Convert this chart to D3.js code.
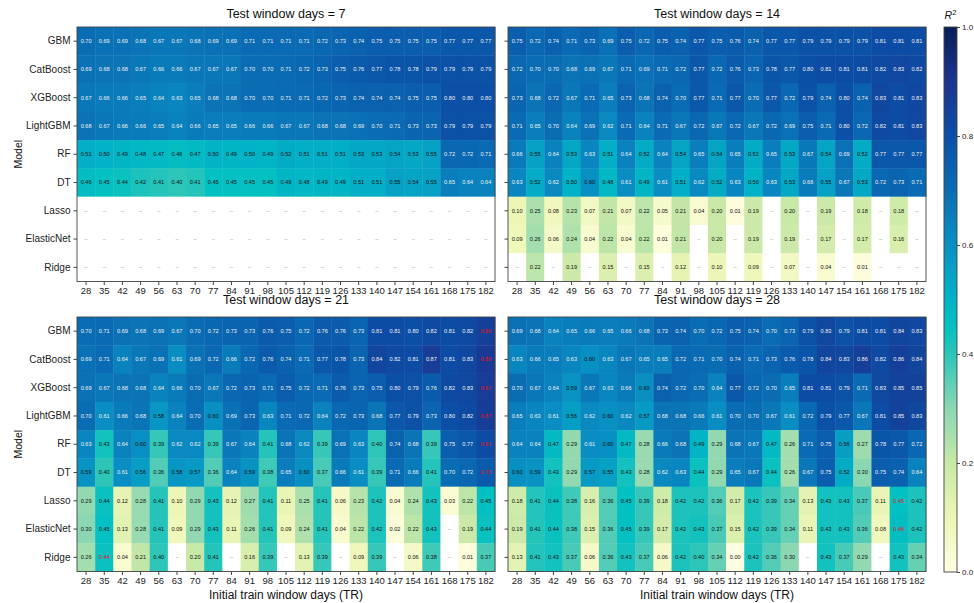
<!DOCTYPE html>
<html>
<head>
<meta charset="utf-8">
<script src="https://cdn.jsdelivr.net/npm/d3@7"></script>
<style>
  body { margin: 0; background: #fff; }
  svg { display: block; }
  text { font-family: "Liberation Sans", Arial, Helvetica, sans-serif; }
</style>
</head>
<body>
<svg id="chart" width="974" height="603"></svg>
<script>
// ---- data -------------------------------------------------------------
const NA = null;
const trainDays = [28, 35, 42, 49, 56, 63, 70, 77, 84, 91, 98, 105, 112, 119, 126, 133, 140, 147, 154, 161, 168, 175, 182];
const models = ["GBM", "CatBoost", "XGBoost", "LightGBM", "RF", "DT", "Lasso", "ElasticNet", "Ridge"];
const testWindows = [7, 14, 21, 28];

// R^2 per model (rows) and initial train window (columns)
const r2Test7 = [
  [0.70,0.69,0.69,0.68,0.67,0.67,0.68,0.69,0.69,0.71,0.71,0.71,0.71,0.72,0.73,0.74,0.75,0.75,0.75,0.75,0.77,0.77,0.77],
  [0.69,0.68,0.68,0.67,0.66,0.66,0.67,0.67,0.67,0.70,0.70,0.71,0.72,0.73,0.75,0.76,0.77,0.78,0.78,0.79,0.79,0.79,0.79],
  [0.67,0.66,0.66,0.65,0.64,0.63,0.65,0.68,0.68,0.70,0.70,0.71,0.71,0.72,0.73,0.74,0.74,0.74,0.75,0.75,0.80,0.80,0.80],
  [0.68,0.67,0.66,0.66,0.65,0.64,0.66,0.65,0.65,0.66,0.66,0.67,0.67,0.68,0.68,0.69,0.70,0.71,0.73,0.73,0.79,0.79,0.79],
  [0.51,0.50,0.49,0.48,0.47,0.46,0.47,0.50,0.49,0.50,0.49,0.52,0.51,0.51,0.51,0.53,0.53,0.54,0.53,0.55,0.72,0.72,0.71],
  [0.46,0.45,0.44,0.42,0.41,0.40,0.41,0.45,0.45,0.45,0.45,0.49,0.48,0.49,0.49,0.51,0.51,0.55,0.54,0.55,0.65,0.64,0.64],
  [NA,NA,NA,NA,NA,NA,NA,NA,NA,NA,NA,NA,NA,NA,NA,NA,NA,NA,NA,NA,NA,NA,NA],
  [NA,NA,NA,NA,NA,NA,NA,NA,NA,NA,NA,NA,NA,NA,NA,NA,NA,NA,NA,NA,NA,NA,NA],
  [NA,NA,NA,NA,NA,NA,NA,NA,NA,NA,NA,NA,NA,NA,NA,NA,NA,NA,NA,NA,NA,NA,NA]
];
const r2Test14 = [
  [0.75,0.72,0.74,0.71,0.73,0.69,0.75,0.72,0.75,0.74,0.77,0.75,0.76,0.74,0.77,0.77,0.79,0.79,0.79,0.79,0.81,0.81,0.81],
  [0.72,0.70,0.70,0.68,0.69,0.67,0.71,0.69,0.71,0.72,0.77,0.72,0.76,0.73,0.78,0.77,0.80,0.81,0.81,0.81,0.82,0.83,0.82],
  [0.73,0.68,0.72,0.67,0.71,0.65,0.73,0.68,0.74,0.70,0.77,0.71,0.77,0.70,0.77,0.72,0.79,0.74,0.80,0.74,0.83,0.81,0.83],
  [0.71,0.65,0.70,0.64,0.69,0.62,0.71,0.64,0.71,0.67,0.72,0.67,0.72,0.67,0.72,0.69,0.75,0.71,0.80,0.72,0.82,0.81,0.83],
  [0.66,0.55,0.64,0.53,0.63,0.51,0.64,0.52,0.64,0.54,0.65,0.54,0.65,0.52,0.65,0.53,0.67,0.54,0.69,0.52,0.77,0.77,0.77],
  [0.63,0.52,0.62,0.50,0.60,0.48,0.61,0.49,0.61,0.51,0.62,0.52,0.63,0.50,0.63,0.53,0.66,0.55,0.67,0.53,0.72,0.73,0.71],
  [0.10,0.25,0.08,0.23,0.07,0.21,0.07,0.22,0.05,0.21,0.04,0.20,0.01,0.19,NA,0.20,NA,0.19,NA,0.18,NA,0.18,NA],
  [0.09,0.26,0.06,0.24,0.04,0.22,0.04,0.22,0.01,0.21,NA,0.20,NA,0.19,NA,0.19,NA,0.17,NA,0.17,NA,0.16,NA],
  [NA,0.22,NA,0.19,NA,0.15,NA,0.15,NA,0.12,NA,0.10,NA,0.09,NA,0.07,NA,0.04,NA,0.01,NA,NA,NA]
];
const r2Test21 = [
  [0.70,0.71,0.69,0.68,0.69,0.67,0.70,0.72,0.73,0.73,0.76,0.75,0.72,0.76,0.76,0.73,0.81,0.81,0.80,0.82,0.81,0.82,0.86],
  [0.69,0.71,0.64,0.67,0.69,0.61,0.69,0.72,0.66,0.72,0.76,0.74,0.71,0.77,0.78,0.73,0.84,0.82,0.81,0.87,0.81,0.83,0.88],
  [0.69,0.67,0.68,0.68,0.64,0.66,0.70,0.67,0.72,0.73,0.71,0.75,0.72,0.71,0.76,0.73,0.75,0.80,0.79,0.76,0.82,0.83,0.87],
  [0.70,0.61,0.66,0.68,0.58,0.64,0.70,0.60,0.69,0.73,0.63,0.71,0.72,0.64,0.72,0.73,0.68,0.77,0.79,0.73,0.80,0.82,0.87],
  [0.63,0.43,0.64,0.60,0.39,0.62,0.62,0.39,0.67,0.64,0.41,0.68,0.62,0.39,0.69,0.63,0.40,0.74,0.68,0.39,0.75,0.77,0.81],
  [0.59,0.40,0.61,0.56,0.36,0.58,0.57,0.36,0.64,0.59,0.38,0.65,0.60,0.37,0.66,0.61,0.39,0.71,0.66,0.41,0.70,0.72,0.76],
  [0.29,0.44,0.12,0.28,0.41,0.10,0.29,0.43,0.12,0.27,0.41,0.11,0.25,0.41,0.06,0.23,0.42,0.04,0.24,0.43,0.03,0.22,0.45],
  [0.30,0.45,0.13,0.28,0.41,0.09,0.29,0.43,0.11,0.26,0.41,0.09,0.24,0.41,0.04,0.22,0.42,0.02,0.22,0.43,NA,0.19,0.44],
  [0.26,0.44,0.04,0.21,0.40,NA,0.20,0.41,NA,0.16,0.39,NA,0.13,0.39,NA,0.09,0.39,NA,0.06,0.38,NA,0.01,0.37]
];
const r2Test28 = [
  [0.69,0.68,0.64,0.65,0.66,0.65,0.66,0.68,0.73,0.74,0.70,0.72,0.75,0.74,0.70,0.73,0.79,0.83,0.79,0.81,0.81,0.84,0.83],
  [0.63,0.66,0.65,0.63,0.60,0.63,0.67,0.65,0.65,0.72,0.71,0.70,0.74,0.71,0.73,0.76,0.78,0.84,0.83,0.86,0.82,0.86,0.84],
  [0.70,0.67,0.64,0.59,0.67,0.63,0.66,0.60,0.74,0.72,0.70,0.64,0.77,0.72,0.70,0.65,0.81,0.81,0.79,0.71,0.83,0.85,0.85],
  [0.65,0.63,0.61,0.56,0.62,0.60,0.62,0.57,0.68,0.68,0.66,0.61,0.70,0.70,0.67,0.61,0.72,0.79,0.77,0.67,0.81,0.85,0.83],
  [0.64,0.64,0.47,0.29,0.61,0.60,0.47,0.28,0.66,0.68,0.49,0.29,0.68,0.67,0.47,0.26,0.71,0.75,0.56,0.27,0.78,0.77,0.72],
  [0.60,0.59,0.43,0.29,0.57,0.55,0.43,0.28,0.62,0.63,0.44,0.29,0.65,0.67,0.44,0.26,0.67,0.75,0.52,0.30,0.75,0.74,0.64],
  [0.18,0.41,0.44,0.38,0.16,0.36,0.45,0.39,0.18,0.42,0.42,0.36,0.17,0.42,0.39,0.34,0.13,0.43,0.43,0.37,0.11,0.45,0.42],
  [0.19,0.41,0.44,0.38,0.15,0.36,0.45,0.39,0.17,0.42,0.43,0.37,0.15,0.42,0.39,0.34,0.11,0.43,0.43,0.36,0.08,0.46,0.42],
  [0.13,0.41,0.43,0.37,0.06,0.36,0.43,0.37,0.06,0.42,0.40,0.34,0.00,0.42,0.36,0.30,NA,0.43,0.37,0.29,NA,0.43,0.34]
];

// best score of each model over all test windows (drawn in red)
const bestTest = [21, 21, 21, 21, 21, 21, 28, 28, 21];
const bestTrain = [182, 182, 182, 182, 182, 182, 175, 175, 35];

// colour map for R^2 in [0, 1]
const colorStops = [0.0, 0.1, 0.2, 0.3, 0.4, 0.45, 0.5, 0.6, 0.7, 0.8, 0.9, 1.0];
const colorRange = ["#fffee0", "#edf6b6", "#c8e8a7", "#8cd7b3", "#2cc5b8", "#03c0c2", "#02b2c6",
                    "#0990c3", "#0a6db4", "#0b4fa6", "#1c3590", "#081d58"];
const colorTicks = [0.0, 0.2, 0.4, 0.6, 0.8, 1.0];

// ---- drawing ----------------------------------------------------------
const r2ByTest = [r2Test7, r2Test14, r2Test21, r2Test28];
const svg = d3.select("#chart");
const color = d3.scaleLinear().domain(colorStops).range(colorRange)
  .interpolate(d3.interpolateRgb).clamp(true);
const fmt = d3.format(".2f");

const panelW = 418, panelH = 254.5;
const panelPos = [
  { x: 77,  y: 27,  titleDy: -9,  yLabels: true,  xTitle: false },
  { x: 508, y: 27,  titleDy: -9,  yLabels: false, xTitle: false },
  { x: 77,  y: 317, titleDy: -13, yLabels: true,  xTitle: true },
  { x: 508, y: 317, titleDy: -13, yLabels: false, xTitle: true }
];

const x = d3.scaleBand().domain(trainDays).range([0, panelW]).padding(0);
const y = d3.scaleBand().domain(models).range([0, panelH]).padding(0);

testWindows.forEach((tw, pi) => {
  const pos = panelPos[pi];
  const data = r2ByTest[pi];
  const g = svg.append("g").attr("transform", `translate(${pos.x},${pos.y})`);

  const cells = [];
  models.forEach((m, ri) => trainDays.forEach((d, ci) => {
    cells.push({ model: m, day: d, value: data[ri][ci],
      best: bestTest[ri] === tw && bestTrain[ri] === d });
  }));

  g.selectAll("rect.cell").data(cells).join("rect")
    .attr("class", "cell")
    .attr("x", c => x(c.day))
    .attr("y", c => y(c.model))
    .attr("width", x.bandwidth() + 0.4)
    .attr("height", y.bandwidth() + 0.4)
    .attr("fill", c => c.value === null ? "#ffffff" : color(c.value));

  g.selectAll("text.ann").data(cells).join("text")
    .attr("class", "ann")
    .attr("x", c => x(c.day) + x.bandwidth() / 2)
    .attr("y", c => y(c.model) + y.bandwidth() / 2)
    .attr("dy", "0.35em")
    .attr("text-anchor", "middle")
    .attr("font-size", 5.6)
    .attr("fill", c => c.value === null ? "#9a9a9a"
      : c.best ? "#e8101a"
      : c.value >= 0.605 ? "#f2f2f2" : "#111")
    .text(c => c.value === null ? "–" : fmt(c.value));

  // frame
  g.append("rect").attr("width", panelW).attr("height", panelH)
    .attr("fill", "none").attr("stroke", "#444").attr("stroke-width", 0.9);

  // axes
  const xAxis = g.append("g").attr("transform", `translate(0,${panelH})`)
    .call(d3.axisBottom(x).tickSize(3.5).tickPadding(2.5));
  xAxis.select(".domain").remove();
  xAxis.selectAll("text").attr("font-size", 9.5).attr("fill", "#222")
    .style("font-family", "'Liberation Sans', Arial, sans-serif");
  xAxis.selectAll("line").attr("stroke", "#444");

  const yAxis = g.append("g")
    .call(d3.axisLeft(y).tickSize(3.5).tickPadding(3)
      .tickFormat(pos.yLabels ? (d => d) : () => ""));
  yAxis.select(".domain").remove();
  yAxis.selectAll("text").attr("font-size", 10).attr("fill", "#222")
    .style("font-family", "'Liberation Sans', Arial, sans-serif");
  yAxis.selectAll("line").attr("stroke", "#444");

  // title
  g.append("text").attr("x", panelW / 2).attr("y", pos.titleDy)
    .attr("text-anchor", "middle").attr("font-size", 12.5).attr("fill", "#111")
    .text(`Test window days = ${tw}`);

  if (pos.yLabels) {
    g.append("text")
      .attr("transform", `translate(${-55},${panelH / 2}) rotate(-90)`)
      .attr("text-anchor", "middle").attr("font-size", 10.5).attr("fill", "#111")
      .text("Model");
  }
  if (pos.xTitle) {
    g.append("text").attr("x", panelW / 2).attr("y", panelH + 27)
      .attr("text-anchor", "middle").attr("font-size", 12).attr("fill", "#111")
      .text("Initial train window days (TR)");
  }
});

// ---- colour bar -------------------------------------------------------
const cbX = 944, cbY = 27, cbW = 13, cbH = 545;
const cbScale = d3.scaleLinear().domain([0, 1]).range([cbY + cbH, cbY]);
const defs = svg.append("defs");
const grad = defs.append("linearGradient").attr("id", "cbGrad")
  .attr("x1", 0).attr("y1", 1).attr("x2", 0).attr("y2", 0);
d3.range(0, 1.0001, 0.02).forEach(t => {
  grad.append("stop").attr("offset", t).attr("stop-color", color(t));
});
svg.append("rect").attr("x", cbX).attr("y", cbY).attr("width", cbW).attr("height", cbH)
  .attr("fill", "url(#cbGrad)").attr("stroke", "#444").attr("stroke-width", 0.9);
const cbAxis = svg.append("g").attr("transform", `translate(${cbX + cbW},0)`)
  .call(d3.axisRight(cbScale).tickValues(colorTicks).tickFormat(d3.format(".1f"))
    .tickSize(3).tickPadding(2));
cbAxis.select(".domain").remove();
cbAxis.selectAll("text").attr("font-size", 8).attr("fill", "#222")
  .style("font-family", "'Liberation Sans', Arial, sans-serif");
cbAxis.selectAll("line").attr("stroke", "#444");

const rLabel = svg.append("text").attr("x", cbX + cbW / 2).attr("y", 19)
  .attr("text-anchor", "middle").attr("font-size", 10.5).attr("fill", "#111");
rLabel.append("tspan").attr("font-style", "italic").text("R");
rLabel.append("tspan").attr("font-size", 7.5).attr("dy", -4).text("2");
</script>
</body>
</html>
